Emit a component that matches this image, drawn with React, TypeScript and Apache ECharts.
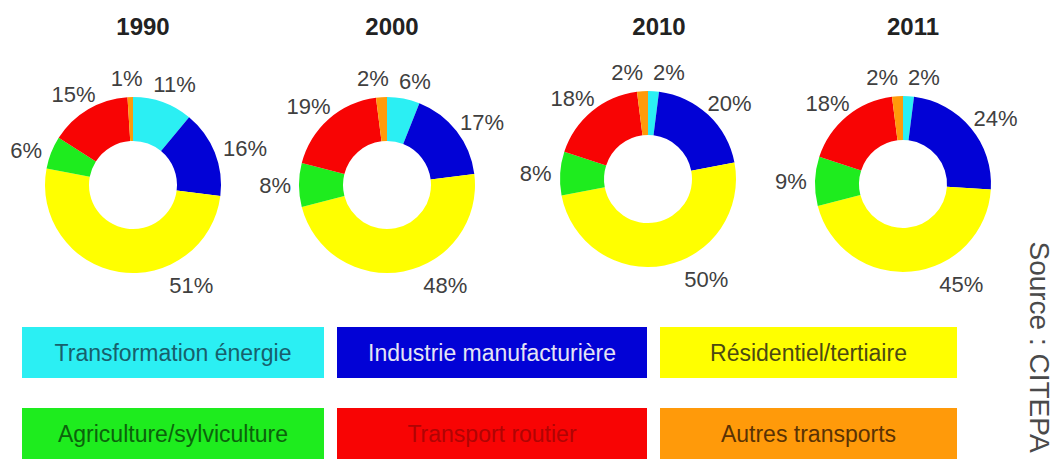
import React, { useEffect, useRef } from "react";
import * as echarts from "echarts";

const years = ["1990", "2000", "2010", "2011"];
const sectors = [
  "Transformation énergie",
  "Industrie manufacturière",
  "Résidentiel/tertiaire",
  "Agriculture/sylviculture",
  "Transport routier",
  "Autres transports",
];
const values1990 = [11, 16, 51, 6, 15, 1];
const values2000 = [6, 17, 48, 8, 19, 2];
const values2010 = [2, 20, 50, 8, 18, 2];
const values2011 = [2, 24, 45, 9, 18, 2];
const sourceText = "Source : CITEPA";

// styles & layout (not data)
const sectorColors = ["#2BEFF3", "#0202D6", "#FFFF00", "#1EEC1E", "#F80404", "#FF9A0A"];
const legendTextColors = ["#17606C", "#E4E4F4", "#4C4A12", "#0C620C", "#B00404", "#5A3204"];
const pieCenters = [
  [133, 185],
  [387, 185],
  [648, 179],
  [903, 184],
];
const titleX = [138, 387, 654, 908];
const outerR = 88;
const innerR = 44;
const labelFont = 22;
const labelGap = 8;
const upperDiagDrop = 22;
// the large slice's label is placed at a fixed angle (degrees clockwise from top), as in the source
const labelAngleOverride: (number | null)[] = [null, null, 150, null, null, null];
const legendX = [22, 337, 660];
const legendW = [302, 310, 297];
const legendY = [327, 408];
const legendH = 51;

function labelPositions(vals: number[], center: number[]) {
  const total = vals.reduce((a, b) => a + b, 0);
  let cum = 0;
  const pos = vals.map((v, k) => {
    let theta = ((cum + v / 2) / total) * 360;
    cum += v;
    if (labelAngleOverride[k] != null) theta = labelAngleOverride[k] as number;
    const t = (theta * Math.PI) / 180;
    const s = Math.sin(t);
    const c = -Math.cos(t);
    const text = v + "%";
    const w = ((text.length - 1) * 0.556 + 0.889) * labelFont;
    const h = labelFont;
    const d = outerR + labelGap + Math.abs(s) * (w / 2) + Math.abs(c) * (h / 2);
    const drop = c < 0 ? upperDiagDrop * Math.abs(s * c) : 0;
    return { x: center[0] + s * d, y: center[1] + c * d + drop, w, h };
  });
  // push apart overlapping neighbours horizontally
  for (let iter = 0; iter < 3; iter++) {
    for (let i = 0; i < pos.length; i++) {
      for (let j = i + 1; j < pos.length; j++) {
        const a = pos[i];
        const b = pos[j];
        const need = (a.w + b.w) / 2 + 10;
        if (Math.abs(a.y - b.y) < (a.h + b.h) / 2 && Math.abs(a.x - b.x) < need) {
          const shift = (need - Math.abs(a.x - b.x)) / 2;
          if (a.x <= b.x) {
            a.x -= shift;
            b.x += shift;
          } else {
            a.x += shift;
            b.x -= shift;
          }
        }
      }
    }
  }
  return pos;
}

export default function App() {
  const ref = useRef<HTMLDivElement>(null);
  useEffect(() => {
    document.body.style.margin = "0";
    const chart = echarts.init(ref.current!, null, { renderer: "svg" });
    const allValues = [values1990, values2000, values2010, values2011];

    const series = allValues.map((vals, i) => {
      const lp = labelPositions(vals, pieCenters[i]);
      return {
        type: "pie",
        center: pieCenters[i],
        radius: [innerR, outerR],
        startAngle: 90,
        clockwise: true,
        avoidLabelOverlap: false,
        silent: true,
        label: {
          show: true,
          position: "outside",
          formatter: "{c}%",
          fontSize: labelFont,
          fontFamily: "Liberation Sans, Arial, sans-serif",
          color: "#404040",
        },
        labelLine: { show: false },
        labelLayout: (p: any) => ({
          x: lp[p.dataIndex].x,
          y: lp[p.dataIndex].y,
          align: "center",
          verticalAlign: "middle",
        }),
        data: vals.map((v, k) => ({
          name: sectors[k],
          value: v,
          itemStyle: { color: sectorColors[k] },
        })),
      };
    });

    const titles = years.map((y, i) => ({
      text: y,
      left: titleX[i],
      top: 9,
      textAlign: "center",
      textStyle: {
        fontSize: 24,
        fontWeight: "bold",
        fontFamily: "Liberation Sans, Arial, sans-serif",
        color: "#222",
      },
    }));

    const legendElems = sectors.map((s, k) => {
      const row = Math.floor(k / 3);
      const col = k % 3;
      return {
        type: "rect",
        shape: { x: legendX[col], y: legendY[row], width: legendW[col], height: legendH },
        style: { fill: sectorColors[k] },
        textContent: {
          style: {
            text: s,
            fill: legendTextColors[k],
            font: "23px Liberation Sans, Arial, sans-serif",
          },
        },
        textConfig: { position: "inside" },
      };
    });

    chart.setOption({
      animation: false,
      backgroundColor: "#ffffff",
      title: titles,
      series,
      graphic: [
        ...legendElems,
        {
          type: "text",
          x: 1039,
          y: 347,
          rotation: -Math.PI / 2,
          style: {
            text: sourceText,
            align: "center",
            verticalAlign: "middle",
            font: "28px Liberation Sans, Arial, sans-serif",
            fill: "#4a4a4a",
          },
        },
      ],
    });
    return () => chart.dispose();
  }, []);
  return (
    <div
      ref={ref}
      style={{ position: "absolute", left: 0, top: 0, width: 1054, height: 461 }}
    />
  );
}
